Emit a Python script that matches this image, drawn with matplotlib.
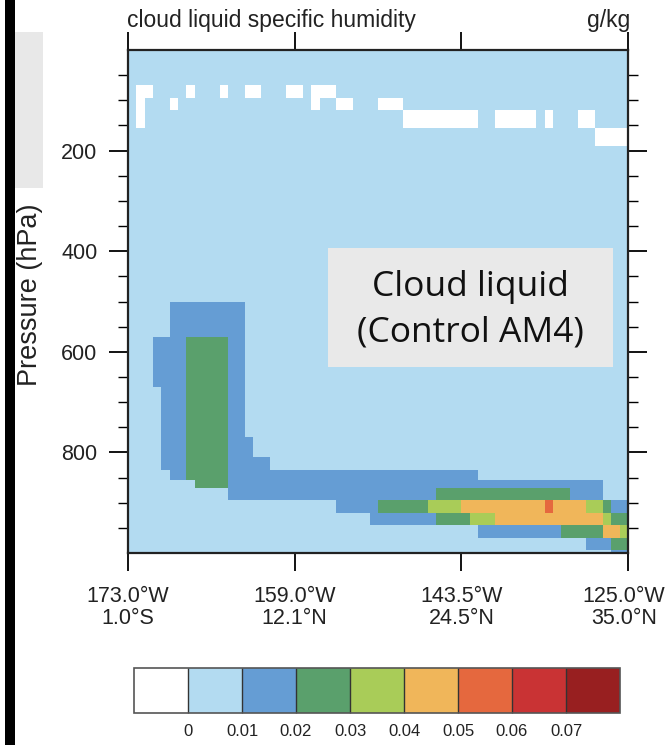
import numpy as np
import matplotlib.pyplot as plt
from matplotlib.colors import ListedColormap, BoundaryNorm
from matplotlib.patches import Rectangle
from matplotlib.transforms import ScaledTranslation

plt.rcParams['font.family'] = ['Liberation Sans', 'DejaVu Sans']

# layer edges in hPa, top to bottom
p_edges = [0, 40, 70, 95, 120, 155, 190, 235, 280, 330, 380, 430, 480, 500,
           540, 570, 620, 670, 720, 770, 810, 835, 855, 870, 895, 920, 945,
           970, 994, 1000]
n_cols = 60

xtick_pos = [0, 20, 40, 60]
xtick_labels = ['173.0°W\n1.0°S', '159.0°W\n12.1°N', '143.5°W\n24.5°N', '125.0°W\n35.0°N']

levels = [0, 0.01, 0.02, 0.03, 0.04, 0.05, 0.06, 0.07]
colors = ['#ffffff', '#b3dbf1', '#659dd4', '#5aa06c', '#a9cc58', '#f0b65a',
          '#e5683e', '#c93334', '#981f20']

# cloud liquid binned by colour class (g/kg); background is '.'
qval = {'w': -0.002, '.': 0.005, 'b': 0.015, 'g': 0.025, 'y': 0.035,
        'o': 0.045, 'r': 0.055}

# row index -> (first col, end col, class)
q_spans = {
    2: [(1, 3, 'w'), (7, 8, 'w'), (11, 12, 'w'), (14, 16, 'w'), (19, 21, 'w'), (22, 25, 'w')],
    3: [(1, 2, 'w'), (5, 6, 'w'), (22, 23, 'w'), (25, 27, 'w'), (30, 33, 'w')],
    4: [(1, 2, 'w'), (33, 42, 'w'), (44, 49, 'w'), (50, 51, 'w'), (54, 56, 'w')],
    5: [(56, 60, 'w')],
    13: [(5, 14, 'b')],
    14: [(5, 14, 'b')],
    15: [(3, 14, 'b'), (7, 12, 'g')],
    16: [(3, 14, 'b'), (7, 12, 'g')],
    17: [(4, 14, 'b'), (7, 12, 'g')],
    18: [(4, 14, 'b'), (7, 12, 'g')],
    19: [(4, 15, 'b'), (7, 12, 'g')],
    20: [(4, 17, 'b'), (7, 12, 'g')],
    21: [(5, 42, 'b'), (7, 12, 'g')],
    22: [(8, 57, 'b'), (8, 12, 'g')],
    23: [(12, 57, 'b'), (37, 53, 'g')],
    24: [(25, 30, 'b'), (30, 36, 'g'), (36, 40, 'y'), (40, 50, 'o'), (50, 51, 'r'),
         (51, 55, 'o'), (55, 57, 'y'), (57, 58, 'g'), (58, 60, 'b')],
    25: [(29, 37, 'b'), (37, 41, 'g'), (41, 44, 'y'), (44, 57, 'o'), (57, 58, 'y'), (58, 60, 'g')],
    26: [(42, 52, 'b'), (52, 57, 'g'), (57, 59, 'o'), (59, 60, 'y')],
    27: [(55, 58, 'b'), (58, 60, 'g')],
    28: [(58, 60, 'b')],
}

n_rows = len(p_edges) - 1
field = np.full((n_rows, n_cols), qval['.'])
for row, spans in q_spans.items():
    for c0, c1, k in spans:
        field[row, c0:c1] = qval[k]

cmap = ListedColormap(colors[1:-1])
cmap.set_under(colors[0])
cmap.set_over(colors[-1])
norm = BoundaryNorm(levels, cmap.N)

fig = plt.figure(figsize=(6.67, 7.45), dpi=100)

# black edge strip and grey panel on the left
fig.patches.append(Rectangle((5 / 667, 0), 10 / 667, 1, transform=fig.transFigure,
                             facecolor='black', edgecolor='none', zorder=0))
fig.patches.append(Rectangle((15 / 667, 1 - 188 / 745), 28 / 667, 156 / 745,
                             transform=fig.transFigure, facecolor='#e8e8e8',
                             edgecolor='none', zorder=0))

ax = fig.add_axes([128 / 667, 1 - 553 / 745, 500 / 667, 503 / 745])
mesh = ax.pcolormesh(np.arange(n_cols + 1), p_edges, field, cmap=cmap, norm=norm)
ax.set_xlim(0, n_cols)
ax.set_ylim(1000, 0)

ax.set_xticks(xtick_pos)
ax.set_xticklabels([])
# two-line lon/lat labels under the ticks; the last one nudged to stay inside
for i, (xp, lab) in enumerate(zip(xtick_pos, xtick_labels)):
    tr = ax.get_xaxis_transform()
    if i == len(xtick_pos) - 1:
        tr = tr + ScaledTranslation(-4 / 100, 0, fig.dpi_scale_trans)
    ax.text(xp, -0.066, lab, transform=tr, ha='center', va='top', fontsize=15.5,
            color='#222222', linespacing=1.05, clip_on=False)

ax.set_yticks([200, 400, 600, 800])
ax.set_yticklabels(['200', '400', '600', '800'], fontsize=15.5, color='#222222')
ax.set_yticks(np.arange(50, 1000, 50), minor=True)
ax.tick_params(axis='x', which='major', direction='out', length=13, width=1.3,
               top=True)
ax.tick_params(axis='y', which='major', direction='out', length=14, width=1.3,
               right=True, pad=8)
ax.tick_params(axis='y', which='minor', direction='out', length=7, width=1.0,
               right=True)
for s in ax.spines.values():
    s.set_linewidth(1.6)
    s.set_color('#222222')

fig.text(30 / 667, 1 - 295 / 745, 'Pressure (hPa)', rotation=90, fontsize=19.5,
         color='#222222', ha='center', va='center')
fig.text(127 / 667, 1 - 21 / 745, 'cloud liquid specific humidity', fontsize=16.5,
         color='#222222', ha='left', va='center')
fig.text(630 / 667, 1 - 21 / 745, 'g/kg', fontsize=16.5, color='#222222',
         ha='right', va='center')

# overlay label
fig.patches.append(Rectangle((328 / 667, 1 - 367 / 745), 285 / 667, 119 / 745,
                             transform=fig.transFigure, facecolor='#e9e9e9',
                             edgecolor='none', zorder=5))
fig.text(470 / 667, 1 - 310 / 745, 'Cloud liquid\n(Control AM4)', fontsize=25.5,
         family='Open Sans', color='#111111', ha='center', va='center',
         linespacing=1.45, zorder=6)

cax = fig.add_axes([134 / 667, 1 - 713 / 745, 486 / 667, 45 / 745])
cb = fig.colorbar(mesh, cax=cax, orientation='horizontal', extend='both',
                  extendrect=True, extendfrac=1 / 7, drawedges=True, ticks=levels)
cb.ax.set_xticklabels(['0', '0.01', '0.02', '0.03', '0.04', '0.05', '0.06', '0.07'],
                      fontsize=12, color='#222222')
cb.ax.tick_params(length=0, pad=8)
cb.outline.set_edgecolor('#555555')
cb.outline.set_linewidth(1.2)
cb.dividers.set_color('#333333')
cb.dividers.set_linewidth(1.0)

fig.savefig('out.png', dpi=100)
